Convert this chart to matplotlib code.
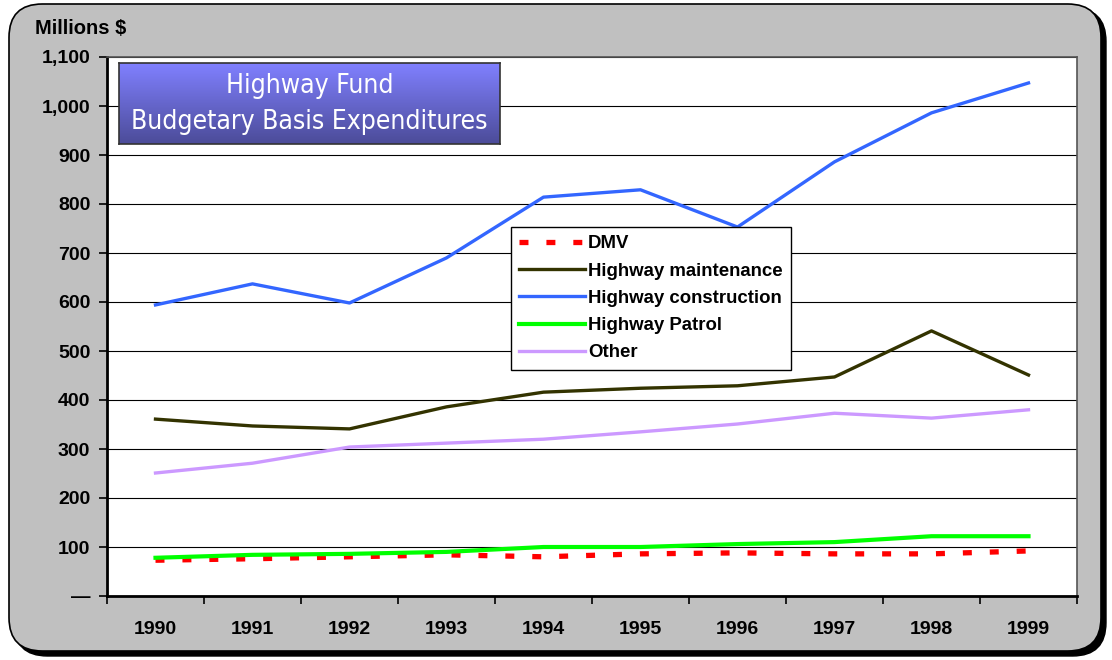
import numpy as np
import matplotlib.pyplot as plt
from matplotlib.patches import FancyBboxPatch

years = ["1990", "1991", "1992", "1993", "1994", "1995", "1996", "1997", "1998", "1999"]
dmv = [73, 76, 80, 84, 80, 86, 88, 86, 86, 92]
maintenance = [361, 347, 341, 386, 416, 424, 429, 447, 541, 451]
construction = [594, 637, 598, 690, 814, 829, 753, 886, 986, 1047]
patrol = [78, 84, 86, 90, 100, 100, 106, 110, 122, 122]
other = [251, 271, 304, 312, 320, 335, 351, 373, 363, 380]
yticks = [0, 100, 200, 300, 400, 500, 600, 700, 800, 900, 1000, 1100]
ylabels = ["—", "100", "200", "300", "400", "500", "600", "700", "800", "900", "1,000", "1,100"]

plt.rcParams['font.family'] = ['Liberation Sans', 'DejaVu Sans']
W, H = 1112, 660
fig = plt.figure(figsize=(W / 100, H / 100), dpi=100)
fig.patch.set_facecolor('white')

# rounded grey frame with a dark shadow
shadow = FancyBboxPatch((14 / W, 4 / H), 1092 / W, 648 / H, boxstyle="round,pad=0,rounding_size=0.03",
                        transform=fig.transFigure, facecolor='black', edgecolor='black',
                        mutation_aspect=W / H, zorder=-2)
frame = FancyBboxPatch((9 / W, 9 / H), 1092 / W, 647 / H, boxstyle="round,pad=0,rounding_size=0.03",
                       transform=fig.transFigure, facecolor='#c0c0c0', edgecolor='black', lw=1.2,
                       mutation_aspect=W / H, zorder=-1)
fig.patches.extend([shadow, frame])

ax = fig.add_axes([107 / W, 64 / H, 970 / W, 539 / H])
ax.set_facecolor('white')
x = np.arange(len(years))

ax.plot(x, other, color='#cc99ff', lw=2.4, label='Other', zorder=3)
ax.plot(x, maintenance, color='#333300', lw=2.4, label='Highway maintenance', zorder=3)
ax.plot(x, construction, color='#3366ff', lw=2.4, label='Highway construction', zorder=3)
ax.plot(x, dmv, color='red', lw=3.8, ls=(0, (1.7, 3.4)), dash_capstyle='butt', label='DMV', zorder=4)
ax.plot(x, patrol, color='#00ff00', lw=3, label='Highway Patrol', zorder=5)

ax.set_xlim(-0.5, 9.5)
ax.set_ylim(0, 1100)
ax.set_yticks(yticks)
ax.set_yticklabels(ylabels)
ax.set_xticks(x)
ax.set_xticklabels(years)
ax.set_xticks(np.arange(-0.5, 10, 1), minor=True)
ax.tick_params(axis='x', which='major', length=0, pad=18, labelsize=14)
ax.tick_params(axis='x', which='minor', length=6, width=1.2, direction='out')
ax.tick_params(axis='y', length=6, width=1.2, pad=6, labelsize=14)
for lab in ax.get_xticklabels() + ax.get_yticklabels():
    lab.set_fontweight('bold')
ax.grid(axis='y', color='black', lw=0.8)
ax.set_axisbelow(True)
for s in ax.spines.values():
    s.set_color('#555555')
    s.set_linewidth(1.2)
ax.spines['left'].set_color('black')
ax.spines['bottom'].set_color('black')
ax.spines['left'].set_linewidth(2)
ax.spines['bottom'].set_linewidth(2)

h, l = ax.get_legend_handles_labels()
order = ['DMV', 'Highway maintenance', 'Highway construction', 'Highway Patrol', 'Other']
hh = [h[l.index(o)] for o in order]
leg = ax.legend(hh, order, loc='upper left', bbox_to_anchor=(404 / 970, (433 - 64) / 539),
                frameon=True, fancybox=False, framealpha=1, edgecolor='black',
                prop={'weight': 'bold', 'size': 13.4}, handlelength=3.5, handletextpad=0.2,
                labelspacing=0.55, borderpad=0.45, borderaxespad=0)
leg.get_frame().set_linewidth(1)
leg.set_zorder(10)

fig.text(35 / W, 1 - 28 / H, "Millions $", fontsize=14.5, fontweight='bold', va='center', ha='left')

# gradient title box
tax = fig.add_axes([119 / W, 1 - 144 / H, 381 / W, 81 / H])
grad = np.linspace(0, 1, 100).reshape(-1, 1)
top = np.array([0x80, 0x80, 0xff]) / 255
bot = np.array([0x4c, 0x4c, 0x99]) / 255
img = top + (bot - top) * grad[:, :, None]
tax.imshow(img, aspect='auto', extent=[0, 1, 0, 1])
tax.set_xticks([])
tax.set_yticks([])
for s in tax.spines.values():
    s.set_color('#333333')
    s.set_linewidth(1.2)
tfont = dict(color='white', fontsize=19, ha='center', va='center', fontstretch='condensed',
             family=['DejaVu Sans', 'Liberation Sans'], transform=tax.transAxes)
tax.text(0.5, 0.72, "Highway Fund", **tfont)
tax.text(0.5, 0.27, "Budgetary Basis Expenditures", **tfont)

plt.savefig("out.png", dpi=100, facecolor=fig.get_facecolor())
